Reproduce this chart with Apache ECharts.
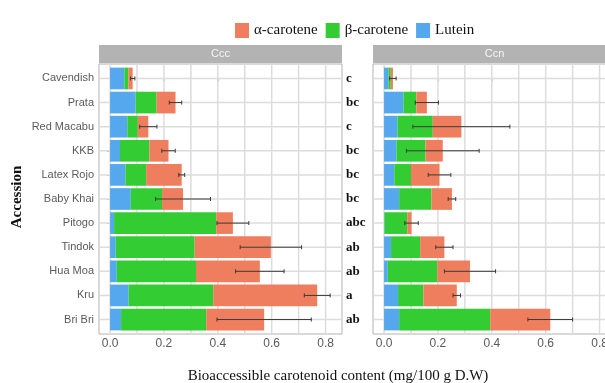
<!DOCTYPE html>
<html>
<head>
<meta charset="utf-8">
<script src="https://cdn.jsdelivr.net/npm/echarts@6/dist/echarts.min.js"></script>
<style>
  html, body { margin: 0; padding: 0; background: #ffffff; }
  #chart { width: 605px; height: 383px; }
</style>
</head>
<body>
<div id="chart"></div>
<script>
// Accessions, top to bottom
const categories = ['Cavendish', 'Prata', 'Red Macabu', 'KKB', 'Latex Rojo', 'Baby Khai',
                    'Pitogo', 'Tindok', 'Hua Moa', 'Kru', 'Bri Bri'];
// Significance letters
const letters = ['c', 'bc', 'c', 'bc', 'bc', 'bc', 'abc', 'ab', 'ab', 'a', 'ab'];

// Ccc: bioaccessible carotenoids (mg/100 g D.W)
const cccLutein = [0.053, 0.095, 0.064, 0.037, 0.057, 0.077, 0.015, 0.021, 0.025, 0.069, 0.041];
const cccBeta   = [0.015, 0.078, 0.039, 0.109, 0.077, 0.116, 0.379, 0.293, 0.294, 0.314, 0.316];
const cccAlpha  = [0.016, 0.070, 0.039, 0.071, 0.132, 0.078, 0.062, 0.283, 0.237, 0.386, 0.215];
const cccErr    = [0.008, 0.023, 0.032, 0.025, 0.011, 0.102, 0.059, 0.114, 0.090, 0.048, 0.175];

// Ccn
const ccnLutein = [0.016, 0.072, 0.050, 0.046, 0.038, 0.056, 0.002, 0.026, 0.014, 0.052, 0.056];
const ccnBeta   = [0.009, 0.048, 0.131, 0.108, 0.062, 0.120, 0.084, 0.108, 0.184, 0.094, 0.338];
const ccnAlpha  = [0.008, 0.039, 0.106, 0.064, 0.106, 0.076, 0.016, 0.090, 0.121, 0.124, 0.223];
const ccnErr    = [0.012, 0.043, 0.180, 0.135, 0.042, 0.014, 0.025, 0.032, 0.095, 0.014, 0.083];

const xTicks = [0, 0.2, 0.4, 0.6, 0.8];
const xGridValues = [0, 0.1, 0.2, 0.3, 0.4, 0.5, 0.6, 0.7, 0.8];
const rowIdx = categories.map((c, i) => i);

const colors = { alpha: '#EE7E5E', beta: '#33CC33', lutein: '#56A8EE' };
const X_MIN = -0.041, X_MAX = 0.861;
const Y_MIN = -0.6, Y_MAX = 10.6;
const GRID_LINE = '#DCDCDC';

function stackRows(parts, k) {
  return categories.map((c, i) => {
    let s = 0;
    for (let j = 0; j < k; j++) s += parts[j][i];
    return [i, s, s + parts[k][i]];
  });
}
function errRows(parts, err) {
  return categories.map((c, i) => {
    const t = parts[0][i] + parts[1][i] + parts[2][i];
    return [i, t - err[i], t + err[i]];
  });
}

function renderBar(params, api) {
  const i = api.value(0);
  const p0 = api.coord([api.value(1), i]);
  const p1 = api.coord([api.value(2), i]);
  const h = Math.abs(api.size([0, 0.9])[1]);
  return {
    type: 'rect',
    shape: { x: p0[0], y: p0[1] - h / 2, width: p1[0] - p0[0], height: h },
    style: { fill: api.visual('color') }
  };
}
function renderErr(params, api) {
  const i = api.value(0);
  const p0 = api.coord([api.value(1), i]);
  const p1 = api.coord([api.value(2), i]);
  const c = 2;
  const st = { stroke: '#3a3a3a', lineWidth: 1 };
  return {
    type: 'group',
    children: [
      { type: 'line', shape: { x1: p0[0], y1: p0[1], x2: p1[0], y2: p1[1] }, style: st },
      { type: 'line', shape: { x1: p0[0], y1: p0[1] - c, x2: p0[0], y2: p0[1] + c }, style: st },
      { type: 'line', shape: { x1: p1[0], y1: p1[1] - c, x2: p1[0], y2: p1[1] + c }, style: st }
    ]
  };
}

// Vertical reference lines at every 0.1 across a panel
function renderVGrid(params, api) {
  const x = api.coord([api.value(0), 0])[0];
  const ya = api.coord([0, Y_MIN])[1];
  const yb = api.coord([0, Y_MAX])[1];
  return { type: 'line', shape: { x1: x, y1: ya, x2: x, y2: yb },
           style: { stroke: GRID_LINE, lineWidth: 1.5 } };
}
// Horizontal reference lines at every accession row
function renderHGrid(params, api) {
  const y = api.coord([0, api.value(1)])[1];
  const xa = api.coord([X_MIN, 0])[0];
  const xb = api.coord([X_MAX, 0])[0];
  return { type: 'line', shape: { x1: xa, y1: y, x2: xb, y2: y },
           style: { stroke: GRID_LINE, lineWidth: 1.5 } };
}

function panelSeries(parts, err, xi, yi) {
  const names = ['Lutein', 'β-carotene', 'α-carotene'];
  const cols = [colors.lutein, colors.beta, colors.alpha];
  const out = [
    { type: 'custom', xAxisIndex: xi, yAxisIndex: yi, z: 1, silent: true, clip: false,
      renderItem: renderVGrid, data: xGridValues.map(v => [v, 0]), encode: { x: 0, y: 1 } },
    { type: 'custom', xAxisIndex: xi, yAxisIndex: yi, z: 1, silent: true, clip: false,
      renderItem: renderHGrid, data: rowIdx.map(v => [0, v]), encode: { x: 0, y: 1 } }
  ];
  names.forEach((n, k) => out.push({
    type: 'custom', name: n, xAxisIndex: xi, yAxisIndex: yi,
    itemStyle: { color: cols[k] }, clip: true, z: 3,
    encode: { x: [1, 2], y: 0 },
    renderItem: renderBar,
    data: stackRows(parts, k)
  }));
  out.push({
    type: 'custom', xAxisIndex: xi, yAxisIndex: yi, z: 4, clip: true,
    encode: { x: [1, 2], y: 0 },
    renderItem: renderErr,
    data: errRows(parts, err)
  });
  return out;
}

const gridStyle = {
  top: 64, height: 270, width: 243, show: true,
  borderColor: '#B3B3B3', borderWidth: 1, containLabel: false, outerBoundsMode: 'none'
};
const axisX = (g) => ({
  type: 'value', gridIndex: g, min: X_MIN, max: X_MAX, position: 'bottom',
  axisLine: { show: false },
  axisTick: { show: true, length: 3, customValues: xTicks, lineStyle: { color: '#B3B3B3' } },
  axisLabel: {
    show: true, customValues: xTicks, margin: 4, color: '#5a5a5a', fontSize: 12,
    fontFamily: 'Liberation Sans, Arial, sans-serif',
    formatter: (v) => xTicks.some(t => Math.abs(t - v) < 1e-6) ? v.toFixed(1) : ''
  },
  splitLine: { show: false }
});
const rowY = (g, extra) => Object.assign({
  type: 'value', gridIndex: g, min: Y_MIN, max: Y_MAX, inverse: true,
  axisLine: { show: false }, splitLine: { show: false }
}, extra);

const option = {
  backgroundColor: '#ffffff',
  animation: false,
  legend: {
    data: ['α-carotene', 'β-carotene', 'Lutein'],
    left: 230, top: 18, itemWidth: 14, itemHeight: 15, itemGap: 8, icon: 'rect',
    textStyle: { fontFamily: 'Liberation Serif, Times New Roman, serif', fontSize: 15, color: '#111' }
  },
  grid: [
    Object.assign({ left: 99 }, gridStyle),
    Object.assign({ left: 373 }, gridStyle)
  ],
  xAxis: [axisX(0), axisX(1)],
  yAxis: [
    rowY(0, {
      position: 'left',
      axisTick: { show: true, length: 3, customValues: rowIdx, lineStyle: { color: '#B3B3B3' } },
      axisLabel: {
        customValues: rowIdx, margin: 5, color: '#5a5a5a', fontSize: 11,
        fontFamily: 'Liberation Sans, Arial, sans-serif',
        formatter: (v) => Number.isInteger(v) && categories[v] !== undefined ? categories[v] : ''
      }
    }),
    rowY(0, {
      position: 'right',
      axisTick: { show: false },
      axisLabel: {
        customValues: rowIdx, margin: 4, color: '#111', fontSize: 13, fontWeight: 'bold',
        fontFamily: 'Liberation Serif, Times New Roman, serif',
        formatter: (v) => Number.isInteger(v) && letters[v] !== undefined ? letters[v] : ''
      }
    }),
    rowY(1, {
      axisTick: { show: false },
      axisLabel: { show: false }
    })
  ],
  graphic: [
    { type: 'rect', left: 99, top: 45, shape: { width: 243, height: 18 }, style: { fill: '#B3B3B3' }, silent: true },
    { type: 'rect', left: 373, top: 45, shape: { width: 243, height: 18 }, style: { fill: '#B3B3B3' }, silent: true },
    { type: 'text', x: 220.5, y: 54, silent: true,
      style: { text: 'Ccc', fill: '#F5F5F5', fontSize: 11, fontFamily: 'Liberation Sans, Arial, sans-serif', align: 'center', verticalAlign: 'middle' } },
    { type: 'text', x: 494.5, y: 54, silent: true,
      style: { text: 'Ccn', fill: '#F5F5F5', fontSize: 11, fontFamily: 'Liberation Sans, Arial, sans-serif', align: 'center', verticalAlign: 'middle' } },
    { type: 'text', x: 338, y: 376, silent: true,
      style: { text: 'Bioaccessible carotenoid content (mg/100 g D.W)', fill: '#111', fontSize: 15,
               fontFamily: 'Liberation Serif, Times New Roman, serif', align: 'center', verticalAlign: 'middle' } },
    { type: 'text', x: 17, y: 197, rotation: Math.PI / 2, silent: true,
      style: { text: 'Accession', fill: '#111', fontSize: 15, fontWeight: 'bold',
               fontFamily: 'Liberation Serif, Times New Roman, serif', align: 'center', verticalAlign: 'middle' } }
  ],
  series: [].concat(
    panelSeries([cccLutein, cccBeta, cccAlpha], cccErr, 0, 0),
    panelSeries([ccnLutein, ccnBeta, ccnAlpha], ccnErr, 1, 2)
  )
};

const chart = echarts.init(document.getElementById('chart'), null, { renderer: 'canvas' });
chart.setOption(option);
</script>
</body>
</html>
